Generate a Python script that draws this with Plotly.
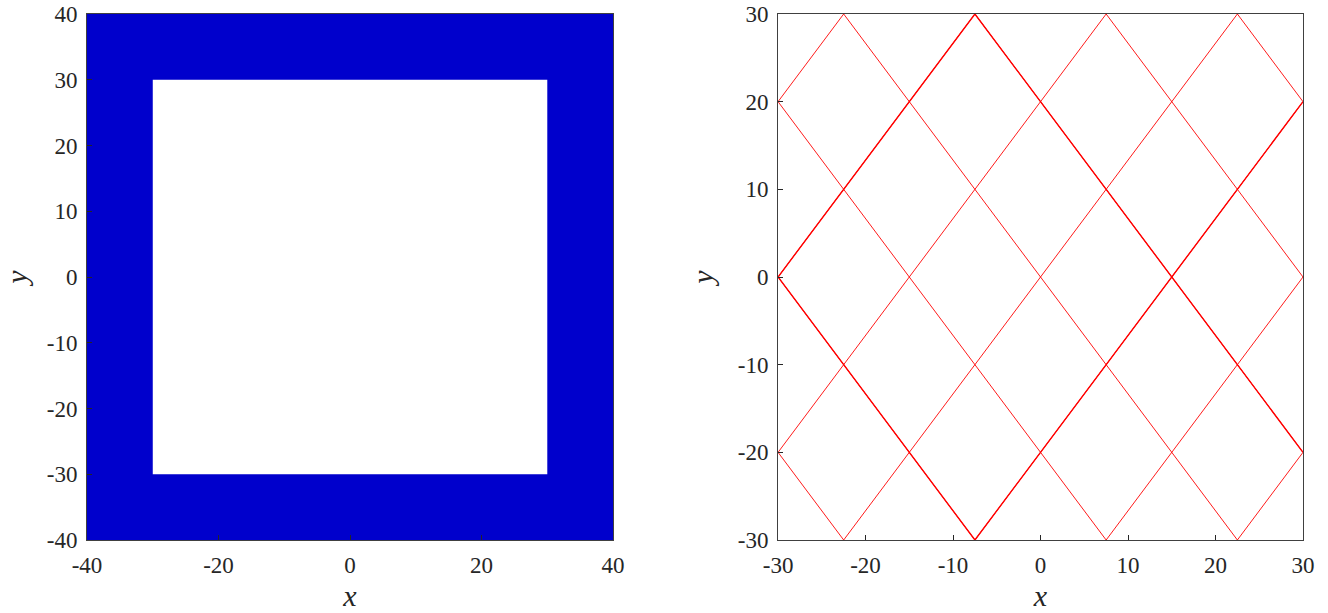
import plotly.graph_objects as go
from plotly.subplots import make_subplots

"""Data"""
# left panel: square frame (outer and inner half widths)
outer_half = 40
inner_half = 30
left_xticks = [-40, -20, 0, 20, 40]
left_xlabels = ["-40", "-20", "0", "20", "40"]
left_yticks = [-40, -30, -20, -10, 0, 10, 20, 30, 40]
left_ylabels = ["-40", "-30", "-20", "-10", "0", "10", "20", "30", "40"]

# right panel: billiard path in the square, vertices in visiting order
path_x = [-30, -7.5, 30, 22.5, -22.5, -30, 7.5, 30, 7.5, -30, -22.5, 22.5, 30, -7.5, -30]
path_y = [0, 30, -20, -30, 30, 20, -30, 0, 30, -20, -30, 30, 20, -30, 0]
# part of the path that was traced twice
retrace_x = [30, -7.5, -30, -7.5, 30]
retrace_y = [20, -30, 0, 30, -20]
right_ticks = [-30, -20, -10, 0, 10, 20, 30]
right_labels = ["-30", "-20", "-10", "0", "10", "20", "30"]

"""Figure"""
fig = make_subplots(rows=1, cols=2, horizontal_spacing=0.1357)

o, i = outer_half, inner_half
frame_x = [-o, o, o, -o, -o, -i, -i, i, i, -i, -o]
frame_y = [-o, -o, o, o, -o, -i, i, i, -i, -i, -o]
fig.add_trace(
    go.Scatter(x=frame_x, y=frame_y, mode="lines", fill="toself",
               fillcolor="#0000CC", line=dict(width=0, color="#0000CC"),
               hoverinfo="skip"),
    row=1, col=1,
)

fig.add_trace(
    go.Scatter(x=path_x, y=path_y, mode="lines",
               line=dict(color="#FF0000", width=0.9)),
    row=1, col=2,
)
fig.add_trace(
    go.Scatter(x=retrace_x, y=retrace_y, mode="lines",
               line=dict(color="#FF0000", width=1.4)),
    row=1, col=2,
)

tick_font = dict(family="Liberation Serif", size=23, color="#262626")
title_font = dict(family="Liberation Serif", size=30, color="#262626")
axis_style = dict(
    showline=True, mirror=True, linecolor="#404040", linewidth=1,
    ticks="inside", ticklen=5, tickcolor="#262626", tickwidth=1,
    showgrid=False, zeroline=False, tickfont=tick_font, automargin=False,
)

fig.update_xaxes(axis_style)
fig.update_yaxes(axis_style)

fig.update_xaxes(range=[-40, 40], tickvals=left_xticks, ticktext=left_xlabels,
                 domain=[0, 0.4326],
                 title=dict(text="<i>x</i>", font=title_font, standoff=8),
                 ticklabelstandoff=4, row=1, col=1)
fig.update_yaxes(range=[-40, 40], tickvals=left_yticks, ticktext=left_ylabels,
                 title=dict(text="<i>y</i>", font=title_font, standoff=17),
                 ticklabelstandoff=4, row=1, col=1)
fig.update_xaxes(range=[-30, 30], tickvals=right_ticks, ticktext=right_labels,
                 domain=[0.5683, 1],
                 title=dict(text="<i>x</i>", font=title_font, standoff=8),
                 ticklabelstandoff=4, row=1, col=2)
fig.update_yaxes(range=[-30, 30], tickvals=right_ticks, ticktext=right_labels,
                 title=dict(text="<i>y</i>", font=title_font, standoff=15),
                 ticklabelstandoff=4, row=1, col=2)

fig.update_layout(
    width=1328, height=613,
    margin=dict(l=87, r=25, t=14, b=73),
    paper_bgcolor="white", plot_bgcolor="white",
    showlegend=False,
)

# drop the default 8px page margin so the figure fills the window
fig.write_html("out.html", config={"displayModeBar": False},
               post_script="document.body.style.margin='0px';")
